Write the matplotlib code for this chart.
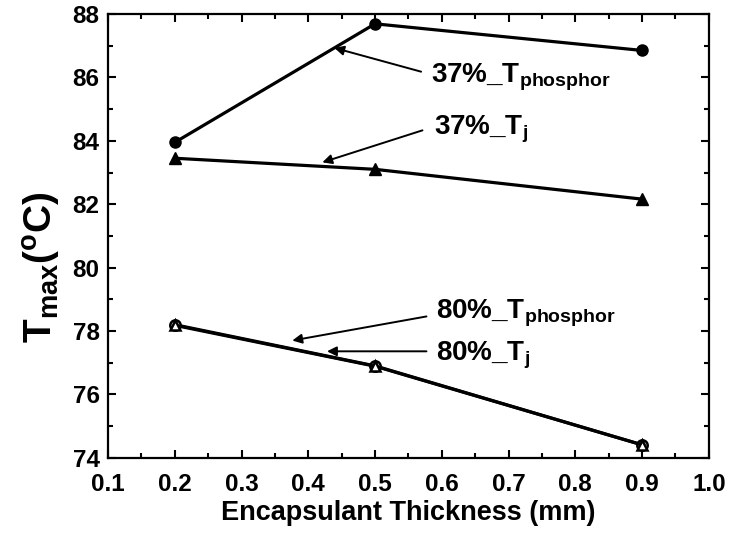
import matplotlib
matplotlib.use("Agg")
import matplotlib.pyplot as plt
from matplotlib.ticker import MultipleLocator

plt.rcParams['font.family'] = ['Liberation Sans', 'DejaVu Sans']
plt.rcParams['font.weight'] = 'bold'
plt.rcParams['mathtext.fontset'] = 'custom'
plt.rcParams['mathtext.rm'] = 'Liberation Sans:bold'
plt.rcParams['mathtext.it'] = 'Liberation Sans:bold'
plt.rcParams['mathtext.bf'] = 'Liberation Sans:bold'

espesor = [0.2, 0.5, 0.9]
t_fosforo_37 = [83.95, 87.69, 86.85]
t_j_37 = [83.45, 83.10, 82.16]
t_fosforo_80 = [78.20, 76.90, 74.41]
t_j_80 = [78.18, 76.89, 74.41]

etiquetas = ['37%_T$_{phosphor}$', '37%_T$_{j}$', '80%_T$_{phosphor}$', '80%_T$_{j}$']
punta_flecha = [(0.439, 86.93), (0.421, 83.32), (0.376, 77.70), (0.428, 77.36)]
cola_flecha = [(0.569, 86.18), (0.571, 84.33), (0.577, 78.46), (0.577, 77.36)]
pos_texto = [(0.584, 85.99), (0.589, 84.36), (0.592, 78.55), (0.592, 77.23)]

fig = plt.figure(figsize=(7.3, 5.38), dpi=100)
ax = fig.add_axes([0.148, 0.149, 0.823, 0.825])

ax.plot(espesor, t_fosforo_37, color='k', lw=2.3, marker='o', ms=8)
ax.plot(espesor, t_j_37, color='k', lw=2.3, marker='^', ms=8)
ax.plot(espesor, t_fosforo_80, color='k', lw=2.3, marker='o', ms=7.5,
        mfc='white', mec='k', mew=1.8)
ax.plot(espesor, t_j_80, color='k', lw=2.3, marker='^', ms=6.5,
        mfc='white', mec='k', mew=1.8)

for texto, punta, cola, pos in zip(etiquetas, punta_flecha, cola_flecha, pos_texto):
    ax.annotate('', xy=punta, xytext=cola,
                arrowprops=dict(arrowstyle='-|>', color='k', lw=1.4,
                                mutation_scale=14, shrinkA=0, shrinkB=0))
    ax.text(pos[0], pos[1], texto, fontsize=20, fontweight='bold',
            ha='left', va='center')

ax.set_xlim(0.1, 1.0)
ax.set_ylim(74, 88)
ax.xaxis.set_major_locator(MultipleLocator(0.1))
ax.xaxis.set_minor_locator(MultipleLocator(0.05))
ax.yaxis.set_major_locator(MultipleLocator(2))
ax.yaxis.set_minor_locator(MultipleLocator(1))
ax.xaxis.set_major_formatter(plt.FormatStrFormatter('%.1f'))

ax.tick_params(which='both', direction='in', top=True, right=True,
               labelsize=17.5, width=1.5)
ax.tick_params(which='major', length=6, pad=6)
ax.tick_params(which='minor', length=3.5)
ax.tick_params(axis='x', which='major', pad=11)
for lado in ax.spines.values():
    lado.set_linewidth(1.6)

ax.set_xlabel('Encapsulant Thickness (mm)', fontsize=19.5, fontweight='bold',
              labelpad=3)
ax.set_ylabel(r'$\mathbf{T_{max}(^{o}C)}$', fontsize=28)
ax.yaxis.set_label_coords(-0.075, 0.43)

fig.savefig('out.png', dpi=100)
